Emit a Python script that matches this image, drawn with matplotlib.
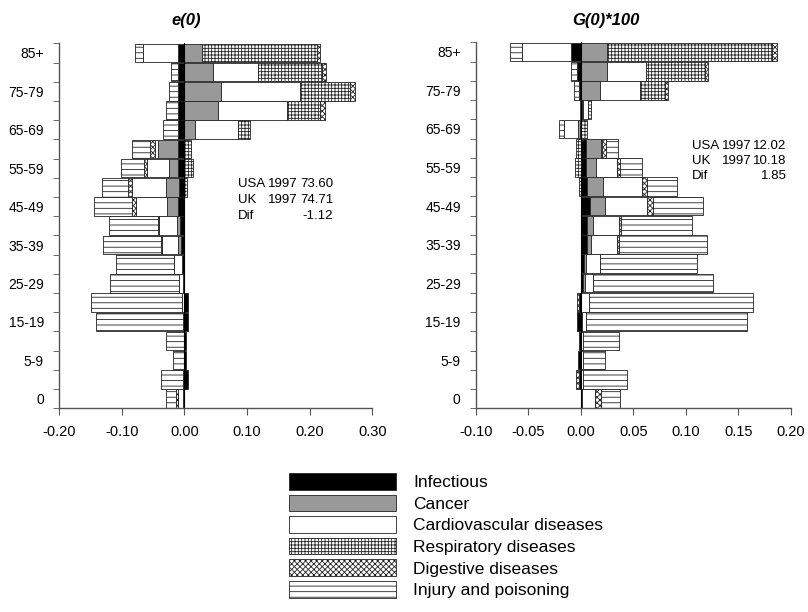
import matplotlib
matplotlib.use('Agg')
import matplotlib.pyplot as plt
from matplotlib.patches import Patch
import numpy as np

plt.rcParams['font.family'] = ['Liberation Sans', 'DejaVu Sans']
plt.rcParams['hatch.linewidth'] = 0.6

ages = ['0', '1-4', '5-9', '10-14', '15-19', '20-24', '25-29', '30-34', '35-39',
        '40-44', '45-49', '50-54', '55-59', '60-64', '65-69', '70-74', '75-79',
        '80-84', '85+']
causes = ['Infectious', 'Cancer', 'Cardiovascular diseases',
          'Respiratory diseases', 'Digestive diseases', 'Injury and poisoning']

# contributions to the USA-UK gap in e(0), age 0 -> 85+
e0_infectious = [-0.002, 0.005, 0.002, 0.002, 0.006, 0.005, -0.003, -0.004, -0.006, -0.007,
                 -0.0105, -0.008, -0.010, -0.010, -0.010, -0.010, -0.010, -0.010, -0.011]
e0_cancer = [0, -0.001, 0, 0, 0, 0, 0, 0, -0.004, -0.005,
             -0.017, -0.022, -0.015, -0.032, 0.016, 0.054, 0.058, 0.046, 0.028]
e0_cardio = [-0.008, -0.002, 0, 0, -0.003, -0.004, -0.005, -0.013, -0.026, -0.028,
             -0.050, -0.053, -0.035, -0.005, 0.070, 0.109, 0.126, 0.071, -0.055]
e0_resp = [0, 0, 0, 0, 0, 0, 0, 0, 0, 0,
           0, 0.004, 0.013, 0.010, 0.018, 0.054, 0.081, 0.102, 0.183]
e0_digest = [-0.004, 0, 0, 0, 0, 0, 0, 0, -0.002, -0.003,
             -0.007, -0.007, -0.004, -0.008, 0, 0.007, 0.007, 0.007, 0.005]
e0_injury = [-0.016, -0.035, -0.019, -0.030, -0.139, -0.146, -0.111, -0.093, -0.092, -0.077,
             -0.060, -0.041, -0.038, -0.029, -0.024, -0.020, -0.014, -0.011, -0.013]

# contributions to the gap in G(0)*100
g0_infectious = [0.001, -0.002, -0.003, -0.0016, -0.004, -0.0015, 0.0016, 0.0025, 0.0057, 0.0057,
                 0.009, 0.006, 0.005, 0.0045, -0.001, 0.001, -0.002, -0.004, -0.0095]
g0_cancer = [0, 0, 0, 0, 0.001, 0, 0.0019, 0.0022, 0.0038, 0.0057,
             0.014, 0.015, 0.009, 0.015, -0.002, 0.001, 0.018, 0.025, 0.025]
g0_cardio = [0.012, 0.002, 0.0016, 0.0016, 0.0035, 0.0073, 0.0076, 0.0137, 0.0248, 0.0245,
             0.040, 0.037, 0.020, 0.001, -0.013, 0.005, 0.038, 0.0375, -0.047]
g0_resp = [0, 0, 0, 0, 0, 0, 0, 0, 0, 0,
           0, -0.002, -0.006, -0.0045, 0.006, 0.003, 0.0245, 0.056, 0.1575]
g0_digest = [0.0057, -0.003, 0, 0, 0, -0.002, 0, 0, 0.0016, 0.002,
             0.0055, 0.005, 0.003, 0.003, 0, 0, 0.0025, 0.0025, 0.004]
g0_injury = [0.019, 0.042, 0.021, 0.0343, 0.154, 0.1564, 0.1144, 0.0919, 0.0846, 0.068,
             0.048, 0.029, 0.021, 0.012, -0.005, -0.001, -0.005, -0.005, -0.011]

e0_xticks = [-0.20, -0.10, 0.00, 0.10, 0.20, 0.30]
g0_xticks = [-0.10, -0.05, 0.00, 0.05, 0.10, 0.15, 0.20]

e0_note = [('USA', '1997', '73.60'), ('UK', '1997', '74.71'), ('Dif', '', '-1.12')]
g0_note = [('USA', '1997', '12.02'), ('UK', '1997', '10.18'), ('Dif', '', '1.85')]

faces = ['black', '#999999', 'white', 'white', 'white', 'white']
hatches = [None, None, None, '+++++', 'xxxxxx', '---']
EDGE = '#222222'
SPINE = '#555555'

W, H = 808, 612
fig = plt.figure(figsize=(W / 100, H / 100), dpi=100)


def px(x0, y0, x1, y1):
    return [x0 / W, 1 - y1 / H, (x1 - x0) / W, (y1 - y0) / H]


def draw_panel(ax, series, xticks):
    y = np.arange(len(ages))
    pos = np.zeros(len(ages))
    neg = np.zeros(len(ages))
    for vals, fc, h in zip(series, faces, hatches):
        v = np.array(vals, dtype=float)
        left = np.where(v >= 0, pos, neg)
        m = v != 0
        ax.barh(y[m], v[m], left=left[m], height=0.97, color=fc,
                edgecolor=EDGE, linewidth=0.6, hatch=h)
        pos = pos + np.where(v > 0, v, 0)
        neg = neg + np.where(v < 0, v, 0)
    ax.axvline(0, color='black', linewidth=0.8, zorder=3)

    ax.set_ylim(-0.5, len(ages) - 0.5)
    ax.set_yticks(y[::2])
    ax.set_yticklabels(ages[::2], fontsize=10)
    ax.set_yticks(np.arange(-0.5, len(ages), 1.0), minor=True)
    ax.tick_params(axis='y', which='major', length=0, pad=11)
    ax.tick_params(axis='y', which='minor', length=4, direction='out', color=SPINE)

    ax.set_xlim(xticks[0], xticks[-1])
    ax.set_xticks(xticks)
    ax.set_xticklabels([f'{t:.2f}' for t in xticks], fontsize=10.5)
    ax.tick_params(axis='x', length=5, direction='out', color=SPINE, pad=7)

    for s in ['top', 'right']:
        ax.spines[s].set_visible(False)
    for s in ['left', 'bottom']:
        ax.spines[s].set_color(SPINE)
        ax.spines[s].set_linewidth(1.0)


ax1 = fig.add_axes(px(59.2, 43.3, 372.4, 408.3))
draw_panel(ax1, [e0_infectious, e0_cancer, e0_cardio, e0_resp, e0_digest, e0_injury], e0_xticks)
ax2 = fig.add_axes(px(476.0, 42.3, 790.7, 408.3))
draw_panel(ax2, [g0_infectious, g0_cancer, g0_cardio, g0_resp, g0_digest, g0_injury], g0_xticks)

fig.text(186 / W, 1 - 20 / H, 'e(0)', ha='center', va='center',
         fontsize=12, fontweight='bold', fontstyle='italic')
fig.text(606 / W, 1 - 20 / H, 'G(0)*100', ha='center', va='center',
         fontsize=12, fontweight='bold', fontstyle='italic')


def note(lines, x_lab, x_year, x_val, ys):
    for (lab, yr, val), yy in zip(lines, ys):
        fig.text(x_lab / W, 1 - yy / H, lab, fontsize=9.5, va='center', ha='left')
        fig.text(x_year / W, 1 - yy / H, yr, fontsize=9.5, va='center', ha='left')
        fig.text(x_val / W, 1 - yy / H, val, fontsize=9.5, va='center', ha='right')


note(e0_note, 238.3, 268, 333.3, [184, 200, 215.5])
note(g0_note, 691.7, 721.5, 786.7, [146, 161, 176])

handles = [Patch(facecolor=fc, edgecolor=EDGE, linewidth=0.6, hatch=h, label=c)
           for c, fc, h in zip(causes, faces, hatches)]
fig.legend(handles=handles, loc='upper left', bbox_to_anchor=(289.3 / W, 1 - 473 / H),
           frameon=False, fontsize=12.5, handlelength=6.15, handleheight=1.1,
           labelspacing=0.25, handletextpad=1.0, borderpad=0, borderaxespad=0)

fig.savefig('out.png', dpi=100)
